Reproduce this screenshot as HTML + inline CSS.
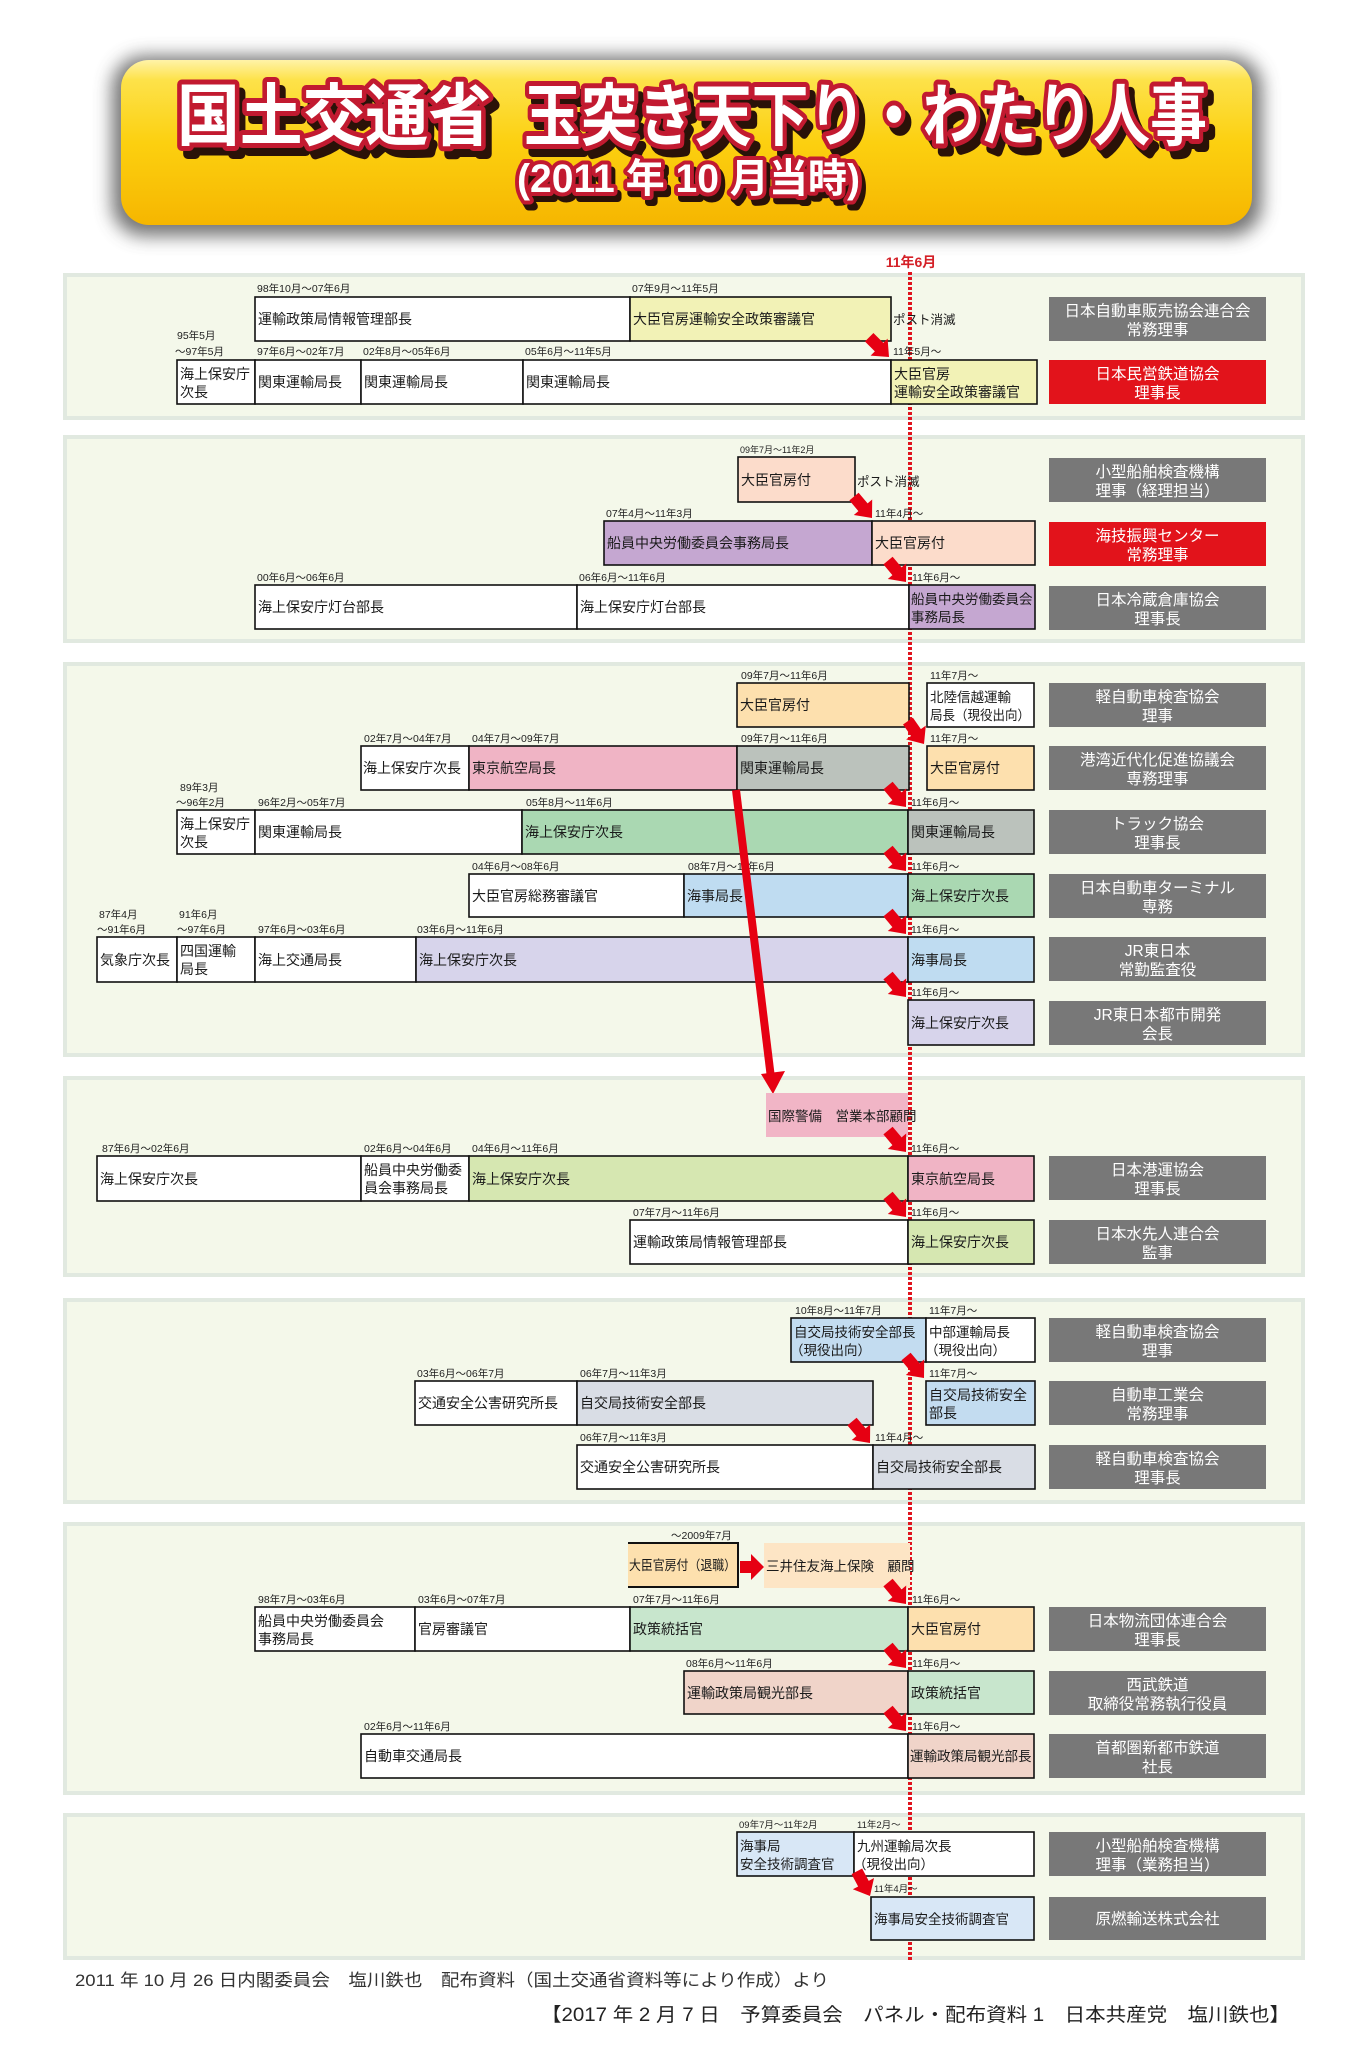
<!DOCTYPE html>
<html><head><meta charset="utf-8">
<style>
html,body{margin:0;padding:0;background:#fff;}
svg{display:block;}
text{font-family:"Liberation Sans","Noto Sans CJK JP",sans-serif;}
.d{font-size:10.5px;fill:#222;}
.t{font-size:14px;fill:#1a1a1a;}
.s{font-size:13.5px;fill:#1a1a1a;}
.g{font-size:15.5px;fill:#fff;text-anchor:middle;}
.c{stroke:#111;stroke-width:1.6;}
.ar{fill:#e60012;}
.sec{fill:#f4f8ea;stroke:#e1e9e0;stroke-width:4;}
</style></head>
<body>
<svg width="1371" height="2048" viewBox="0 0 1371 2048" xmlns="http://www.w3.org/2000/svg">
<defs>
<linearGradient id="gold" x1="0" y1="0" x2="0" y2="1">
<stop offset="0" stop-color="#fff3a8"/>
<stop offset="0.12" stop-color="#fde24a"/>
<stop offset="0.5" stop-color="#fcd010"/>
<stop offset="1" stop-color="#f6b600"/>
</linearGradient>
<filter id="blur" x="-10%" y="-30%" width="120%" height="160%"><feGaussianBlur stdDeviation="9"/></filter>
</defs>
<rect width="1371" height="2048" fill="#fff"/>

<!-- Title -->
<rect x="112" y="56" width="1150" height="180" rx="32" fill="#5c5c5c" opacity="0.85" filter="url(#blur)"/>
<rect x="121" y="60" width="1131" height="165" rx="28" fill="url(#gold)"/>
<g font-weight="bold">
<text x="183" y="148" font-size="68" textLength="314" lengthAdjust="spacingAndGlyphs" fill="#2a1208" stroke="#2a1208" stroke-width="10" stroke-linejoin="round">国土交通省</text>
<text x="530" y="148" font-size="68" textLength="683" lengthAdjust="spacingAndGlyphs" fill="#2a1208" stroke="#2a1208" stroke-width="10" stroke-linejoin="round">玉突き天下り・わたり人事</text>
<text x="177" y="140" font-size="68" textLength="314" lengthAdjust="spacingAndGlyphs" fill="#fff" stroke="#c21a30" stroke-width="10" stroke-linejoin="round" style="paint-order:stroke">国土交通省</text>
<text x="524" y="140" font-size="68" textLength="683" lengthAdjust="spacingAndGlyphs" fill="#fff" stroke="#c21a30" stroke-width="10" stroke-linejoin="round" style="paint-order:stroke">玉突き天下り・わたり人事</text>
<text x="521" y="198" font-size="40" textLength="343" lengthAdjust="spacingAndGlyphs" fill="#2a1208" stroke="#2a1208" stroke-width="8" stroke-linejoin="round">(2011 年 10 月当時)</text>
<text x="517" y="192" font-size="40" textLength="343" lengthAdjust="spacingAndGlyphs" fill="#fff" stroke="#c21a30" stroke-width="8" stroke-linejoin="round" style="paint-order:stroke">(2011 年 10 月当時)</text>
</g>

<text x="911" y="267" font-size="14" font-weight="bold" fill="#d42027" text-anchor="middle">11年6月</text>

<!-- Section backgrounds -->
<rect class="sec" x="65" y="275" width="1238" height="143"/>
<rect class="sec" x="65" y="437" width="1238" height="204"/>
<rect class="sec" x="65" y="664" width="1238" height="391"/>
<rect class="sec" x="65" y="1078" width="1238" height="197"/>
<rect class="sec" x="65" y="1300" width="1238" height="202"/>
<rect class="sec" x="65" y="1524" width="1238" height="269"/>
<rect class="sec" x="65" y="1815" width="1238" height="143"/>

<!-- dashed line -->
<line x1="910" y1="272" x2="910" y2="1962" stroke="#e0141e" stroke-width="4" stroke-dasharray="3 2"/>

<!-- ===== Section 1 ===== -->
<text class="d" x="257" y="292">98年10月〜07年6月</text>
<text class="d" x="632" y="292">07年9月〜11年5月</text>
<rect class="c" x="255" y="297" width="375" height="44" fill="#fff"/>
<rect class="c" x="630" y="297" width="261" height="44" fill="#f2f2b6"/>
<text class="t" x="258" y="324">運輸政策局情報管理部長</text>
<text class="t" x="633" y="324">大臣官房運輸安全政策審議官</text>
<text x="893" y="324" font-size="12.5" fill="#1a1a1a">ポスト消滅</text>

<text class="d" x="177" y="339">95年5月</text>
<text class="d" x="175" y="355">〜97年5月</text>
<text class="d" x="257" y="355">97年6月〜02年7月</text>
<text class="d" x="363" y="355">02年8月〜05年6月</text>
<text class="d" x="525" y="355">05年6月〜11年5月</text>
<text class="d" x="893" y="355">11年5月〜</text>
<rect class="c" x="177" y="360" width="78" height="44" fill="#fff"/>
<rect class="c" x="255" y="360" width="106" height="44" fill="#fff"/>
<rect class="c" x="361" y="360" width="162" height="44" fill="#fff"/>
<rect class="c" x="523" y="360" width="368" height="44" fill="#fff"/>
<rect class="c" x="891" y="360" width="146" height="44" fill="#f2f2b6"/>
<text class="t" x="180" y="379">海上保安庁</text><text class="t" x="180" y="397">次長</text>
<text class="t" x="258" y="387">関東運輸局長</text>
<text class="t" x="364" y="387">関東運輸局長</text>
<text class="t" x="526" y="387">関東運輸局長</text>
<text class="t" x="894" y="379">大臣官房</text><text class="t" x="894" y="397">運輸安全政策審議官</text>
<polygon class="ar" points="0,0 -14,-12 -14,-6 -28,-6 -28,6 -14,6 -14,12" transform="translate(889,357) rotate(45)"/>

<rect x="1049" y="297" width="217" height="44" fill="#787878"/>
<text class="g" x="1157.5" y="316">日本自動車販売協会連合会</text><text class="g" x="1157.5" y="335">常務理事</text>
<rect x="1049" y="360" width="217" height="44" fill="#e2131b"/>
<text class="g" x="1157.5" y="379">日本民営鉄道協会</text><text class="g" x="1157.5" y="398">理事長</text>

<!-- ===== Section 2 ===== -->
<text x="740" y="453" font-size="9" fill="#222">09年7月〜11年2月</text>
<rect class="c" x="738" y="457" width="117" height="45" fill="#fcdccb"/>
<text class="t" x="741" y="485">大臣官房付</text>
<text x="857" y="486" font-size="12.5" fill="#1a1a1a">ポスト消滅</text>
<polygon class="ar" points="0,0 -14,-12 -14,-6 -28,-6 -28,6 -14,6 -14,12" transform="translate(872,518) rotate(50)"/>

<text class="d" x="606" y="517">07年4月〜11年3月</text>
<text class="d" x="875" y="517">11年4月〜</text>
<rect class="c" x="604" y="521" width="268" height="44" fill="#c5a7d1"/>
<rect class="c" x="872" y="521" width="163" height="44" fill="#fcdccb"/>
<text class="t" x="607" y="548">船員中央労働委員会事務局長</text>
<text class="t" x="875" y="548">大臣官房付</text>
<polygon class="ar" points="0,0 -14,-12 -14,-6 -28,-6 -28,6 -14,6 -14,12" transform="translate(906,582) rotate(50)"/>

<text class="d" x="257" y="581">00年6月〜06年6月</text>
<text class="d" x="579" y="581">06年6月〜11年6月</text>
<text class="d" x="912" y="581">11年6月〜</text>
<rect class="c" x="255" y="585" width="322" height="44" fill="#fff"/>
<rect class="c" x="577" y="585" width="332" height="44" fill="#fff"/>
<rect class="c" x="909" y="585" width="126" height="44" fill="#c5a7d1"/>
<text class="t" x="258" y="612">海上保安庁灯台部長</text>
<text class="t" x="580" y="612">海上保安庁灯台部長</text>
<text class="s" x="911" y="604">船員中央労働委員会</text><text class="s" x="911" y="622">事務局長</text>

<rect x="1049" y="458" width="217" height="44" fill="#787878"/>
<text class="g" x="1157.5" y="477">小型船舶検査機構</text><text class="g" x="1157.5" y="496">理事（経理担当）</text>
<rect x="1049" y="522" width="217" height="44" fill="#e2131b"/>
<text class="g" x="1157.5" y="541">海技振興センター</text><text class="g" x="1157.5" y="560">常務理事</text>
<rect x="1049" y="586" width="217" height="44" fill="#787878"/>
<text class="g" x="1157.5" y="605">日本冷蔵倉庫協会</text><text class="g" x="1157.5" y="624">理事長</text>

<!-- ===== Section 3 ===== -->
<text class="d" x="741" y="679">09年7月〜11年6月</text>
<text class="d" x="930" y="679">11年7月〜</text>
<rect class="c" x="737" y="683" width="172" height="44" fill="#fde0ae"/>
<text class="t" x="740" y="710">大臣官房付</text>
<rect class="c" x="927" y="683" width="107" height="44" fill="#fff"/>
<text class="s" x="930" y="702">北陸信越運輸</text>
<text class="s" x="930" y="720" textLength="100" lengthAdjust="spacingAndGlyphs">局長（現役出向）</text>
<polygon class="ar" points="0,0 -14,-12 -14,-6 -28,-6 -28,6 -14,6 -14,12" transform="translate(924,744) rotate(55)"/>

<text class="d" x="364" y="742">02年7月〜04年7月</text>
<text class="d" x="472" y="742">04年7月〜09年7月</text>
<text class="d" x="741" y="742">09年7月〜11年6月</text>
<text class="d" x="930" y="742">11年7月〜</text>
<rect class="c" x="361" y="746" width="108" height="44" fill="#fff"/>
<rect class="c" x="469" y="746" width="268" height="44" fill="#f0b4c5"/>
<rect class="c" x="737" y="746" width="172" height="44" fill="#bbc2bc"/>
<rect class="c" x="927" y="746" width="107" height="44" fill="#fde0ae"/>
<text class="t" x="363" y="773">海上保安庁次長</text>
<text class="t" x="472" y="773">東京航空局長</text>
<text class="t" x="740" y="773">関東運輸局長</text>
<text class="t" x="930" y="773">大臣官房付</text>
<polygon class="ar" points="0,0 -14,-12 -14,-6 -28,-6 -28,6 -14,6 -14,12" transform="translate(906,807) rotate(50)"/>

<text class="d" x="180" y="791">89年3月</text>
<text class="d" x="176" y="806">〜96年2月</text>
<text class="d" x="258" y="806">96年2月〜05年7月</text>
<text class="d" x="526" y="806">05年8月〜11年6月</text>
<text class="d" x="911" y="806">11年6月〜</text>
<rect class="c" x="177" y="810" width="78" height="44" fill="#fff"/>
<rect class="c" x="255" y="810" width="267" height="44" fill="#fff"/>
<rect class="c" x="522" y="810" width="386" height="44" fill="#aad8b2"/>
<rect class="c" x="908" y="810" width="126" height="44" fill="#bbc2bc"/>
<text class="t" x="180" y="829">海上保安庁</text><text class="t" x="180" y="847">次長</text>
<text class="t" x="258" y="837">関東運輸局長</text>
<text class="t" x="525" y="837">海上保安庁次長</text>
<text class="t" x="911" y="837">関東運輸局長</text>
<polygon class="ar" points="0,0 -14,-12 -14,-6 -28,-6 -28,6 -14,6 -14,12" transform="translate(906,871) rotate(50)"/>

<text class="d" x="472" y="870">04年6月〜08年6月</text>
<text class="d" x="688" y="870">08年7月〜11年6月</text>
<text class="d" x="911" y="870">11年6月〜</text>
<rect class="c" x="469" y="874" width="215" height="43" fill="#fff"/>
<rect class="c" x="684" y="874" width="224" height="43" fill="#bfdcf1"/>
<rect class="c" x="908" y="874" width="126" height="43" fill="#aad8b2"/>
<text class="t" x="472" y="901">大臣官房総務審議官</text>
<text class="t" x="687" y="901">海事局長</text>
<text class="t" x="911" y="901">海上保安庁次長</text>
<polygon class="ar" points="0,0 -14,-12 -14,-6 -28,-6 -28,6 -14,6 -14,12" transform="translate(906,934) rotate(50)"/>

<text class="d" x="99" y="918">87年4月</text>
<text class="d" x="97" y="933">〜91年6月</text>
<text class="d" x="179" y="918">91年6月</text>
<text class="d" x="177" y="933">〜97年6月</text>
<text class="d" x="258" y="933">97年6月〜03年6月</text>
<text class="d" x="417" y="933">03年6月〜11年6月</text>
<text class="d" x="911" y="933">11年6月〜</text>
<rect class="c" x="97" y="937" width="80" height="45" fill="#fff"/>
<rect class="c" x="177" y="937" width="78" height="45" fill="#fff"/>
<rect class="c" x="255" y="937" width="161" height="45" fill="#fff"/>
<rect class="c" x="416" y="937" width="492" height="45" fill="#d7d4eb"/>
<rect class="c" x="908" y="937" width="126" height="45" fill="#bfdcf1"/>
<text class="t" x="100" y="965">気象庁次長</text>
<text class="t" x="180" y="956">四国運輸</text><text class="t" x="180" y="974">局長</text>
<text class="t" x="258" y="965">海上交通局長</text>
<text class="t" x="419" y="965">海上保安庁次長</text>
<text class="t" x="911" y="965">海事局長</text>
<polygon class="ar" points="0,0 -14,-12 -14,-6 -28,-6 -28,6 -14,6 -14,12" transform="translate(906,997) rotate(50)"/>

<text class="d" x="911" y="996">11年6月〜</text>
<rect class="c" x="908" y="1000" width="126" height="45" fill="#d7d4eb"/>
<text class="t" x="911" y="1028">海上保安庁次長</text>

<rect x="1049" y="683" width="217" height="44" fill="#787878"/>
<text class="g" x="1157.5" y="702">軽自動車検査協会</text><text class="g" x="1157.5" y="721">理事</text>
<rect x="1049" y="746" width="217" height="44" fill="#787878"/>
<text class="g" x="1157.5" y="765">港湾近代化促進協議会</text><text class="g" x="1157.5" y="784">専務理事</text>
<rect x="1049" y="810" width="217" height="44" fill="#787878"/>
<text class="g" x="1157.5" y="829">トラック協会</text><text class="g" x="1157.5" y="848">理事長</text>
<rect x="1049" y="874" width="217" height="44" fill="#787878"/>
<text class="g" x="1157.5" y="893">日本自動車ターミナル</text><text class="g" x="1157.5" y="912">専務</text>
<rect x="1049" y="937" width="217" height="44" fill="#787878"/>
<text class="g" x="1157.5" y="956">JR東日本</text><text class="g" x="1157.5" y="975">常勤監査役</text>
<rect x="1049" y="1001" width="217" height="44" fill="#787878"/>
<text class="g" x="1157.5" y="1020">JR東日本都市開発</text><text class="g" x="1157.5" y="1039">会長</text>

<!-- long red line -->
<line x1="736" y1="790" x2="771" y2="1078" stroke="#e60012" stroke-width="8"/>
<polygon class="ar" points="773,1094 761,1074 785,1071"/>

<!-- ===== Section 4 ===== -->
<rect x="766" y="1093" width="142" height="44" fill="#f1b5c6"/>
<text class="s" x="768" y="1121">国際警備　営業本部顧問</text>
<polygon class="ar" points="0,0 -14,-12 -14,-6 -28,-6 -28,6 -14,6 -14,12" transform="translate(906,1152) rotate(50)"/>

<text class="d" x="102" y="1152">87年6月〜02年6月</text>
<text class="d" x="364" y="1152">02年6月〜04年6月</text>
<text class="d" x="472" y="1152">04年6月〜11年6月</text>
<text class="d" x="911" y="1152">11年6月〜</text>
<rect class="c" x="97" y="1156" width="264" height="45" fill="#fff"/>
<rect class="c" x="361" y="1156" width="108" height="45" fill="#fff"/>
<rect class="c" x="469" y="1156" width="439" height="45" fill="#d6e7b1"/>
<rect class="c" x="908" y="1156" width="126" height="45" fill="#f0b4c5"/>
<text class="t" x="100" y="1184">海上保安庁次長</text>
<text class="t" x="364" y="1175">船員中央労働委</text><text class="t" x="364" y="1193">員会事務局長</text>
<text class="t" x="472" y="1184">海上保安庁次長</text>
<text class="t" x="911" y="1184">東京航空局長</text>
<polygon class="ar" points="0,0 -14,-12 -14,-6 -28,-6 -28,6 -14,6 -14,12" transform="translate(906,1217) rotate(50)"/>

<text class="d" x="633" y="1216">07年7月〜11年6月</text>
<text class="d" x="911" y="1216">11年6月〜</text>
<rect class="c" x="630" y="1220" width="278" height="44" fill="#fff"/>
<rect class="c" x="908" y="1220" width="126" height="44" fill="#d6e7b1"/>
<text class="t" x="633" y="1247">運輸政策局情報管理部長</text>
<text class="t" x="911" y="1247">海上保安庁次長</text>

<rect x="1049" y="1156" width="217" height="44" fill="#787878"/>
<text class="g" x="1157.5" y="1175">日本港運協会</text><text class="g" x="1157.5" y="1194">理事長</text>
<rect x="1049" y="1220" width="217" height="44" fill="#787878"/>
<text class="g" x="1157.5" y="1239">日本水先人連合会</text><text class="g" x="1157.5" y="1258">監事</text>

<!-- ===== Section 5 ===== -->
<text class="d" x="795" y="1314">10年8月〜11年7月</text>
<text class="d" x="929" y="1314">11年7月〜</text>
<rect class="c" x="791" y="1318" width="135" height="44" fill="#c3dcf0"/>
<rect class="c" x="926" y="1318" width="109" height="44" fill="#fff"/>
<text class="s" x="794" y="1337">自交局技術安全部長</text><text class="s" x="790" y="1355">（現役出向）</text>
<text class="s" x="929" y="1337">中部運輸局長</text><text class="s" x="925" y="1355">（現役出向）</text>
<polygon class="ar" points="0,0 -14,-12 -14,-6 -28,-6 -28,6 -14,6 -14,12" transform="translate(924,1378) rotate(50)"/>

<text class="d" x="417" y="1377">03年6月〜06年7月</text>
<text class="d" x="580" y="1377">06年7月〜11年3月</text>
<text class="d" x="929" y="1377">11年7月〜</text>
<rect class="c" x="415" y="1381" width="162" height="44" fill="#fff"/>
<rect class="c" x="577" y="1381" width="296" height="44" fill="#d9dde5"/>
<rect class="c" x="926" y="1381" width="109" height="44" fill="#c3dcf0"/>
<text class="t" x="418" y="1408">交通安全公害研究所長</text>
<text class="t" x="580" y="1408">自交局技術安全部長</text>
<text class="t" x="929" y="1400">自交局技術安全</text><text class="t" x="929" y="1418">部長</text>
<polygon class="ar" points="0,0 -14,-12 -14,-6 -28,-6 -28,6 -14,6 -14,12" transform="translate(870,1443) rotate(50)"/>

<text class="d" x="580" y="1441">06年7月〜11年3月</text>
<text class="d" x="875" y="1441">11年4月〜</text>
<rect class="c" x="577" y="1445" width="296" height="44" fill="#fff"/>
<rect class="c" x="873" y="1445" width="162" height="44" fill="#d9dde5"/>
<text class="t" x="580" y="1472">交通安全公害研究所長</text>
<text class="t" x="876" y="1472">自交局技術安全部長</text>

<rect x="1049" y="1318" width="217" height="44" fill="#787878"/>
<text class="g" x="1157.5" y="1337">軽自動車検査協会</text><text class="g" x="1157.5" y="1356">理事</text>
<rect x="1049" y="1381" width="217" height="44" fill="#787878"/>
<text class="g" x="1157.5" y="1400">自動車工業会</text><text class="g" x="1157.5" y="1419">常務理事</text>
<rect x="1049" y="1445" width="217" height="44" fill="#787878"/>
<text class="g" x="1157.5" y="1464">軽自動車検査協会</text><text class="g" x="1157.5" y="1483">理事長</text>

<!-- ===== Section 6 ===== -->
<text class="d" x="671" y="1539">〜2009年7月</text>
<rect x="628" y="1543" width="110" height="44" fill="#fde0ae"/>
<path d="M628,1543 H738 V1587 H628" fill="none" stroke="#111" stroke-width="2"/>
<text x="629" y="1570" font-size="13.5" fill="#1a1a1a" textLength="107" lengthAdjust="spacingAndGlyphs">大臣官房付（退職）</text>
<polygon class="ar" points="740,1561 751,1561 751,1554 764,1567 751,1580 751,1573 740,1573"/>
<rect x="764" y="1543" width="146" height="45" fill="#fde5c5"/>
<text class="s" x="766" y="1571">三井住友海上保険　顧問</text>
<polygon class="ar" points="0,0 -14,-12 -14,-6 -28,-6 -28,6 -14,6 -14,12" transform="translate(906,1604) rotate(50)"/>

<text class="d" x="258" y="1603">98年7月〜03年6月</text>
<text class="d" x="418" y="1603">03年6月〜07年7月</text>
<text class="d" x="633" y="1603">07年7月〜11年6月</text>
<text class="d" x="912" y="1603">11年6月〜</text>
<rect class="c" x="255" y="1607" width="160" height="44" fill="#fff"/>
<rect class="c" x="415" y="1607" width="215" height="44" fill="#fff"/>
<rect class="c" x="630" y="1607" width="278" height="44" fill="#c8e6cd"/>
<rect class="c" x="908" y="1607" width="126" height="44" fill="#fde0ae"/>
<text class="t" x="258" y="1626">船員中央労働委員会</text><text class="t" x="258" y="1644">事務局長</text>
<text class="t" x="418" y="1634">官房審議官</text>
<text class="t" x="633" y="1634">政策統括官</text>
<text class="t" x="911" y="1634">大臣官房付</text>
<polygon class="ar" points="0,0 -14,-12 -14,-6 -28,-6 -28,6 -14,6 -14,12" transform="translate(906,1668) rotate(50)"/>

<text class="d" x="686" y="1667">08年6月〜11年6月</text>
<text class="d" x="912" y="1667">11年6月〜</text>
<rect class="c" x="684" y="1671" width="224" height="43" fill="#f0d4c9"/>
<rect class="c" x="908" y="1671" width="126" height="43" fill="#c8e6cd"/>
<text class="t" x="687" y="1698">運輸政策局観光部長</text>
<text class="t" x="911" y="1698">政策統括官</text>
<polygon class="ar" points="0,0 -14,-12 -14,-6 -28,-6 -28,6 -14,6 -14,12" transform="translate(906,1731) rotate(50)"/>

<text class="d" x="364" y="1730">02年6月〜11年6月</text>
<text class="d" x="912" y="1730">11年6月〜</text>
<rect class="c" x="361" y="1734" width="547" height="44" fill="#fff"/>
<rect class="c" x="908" y="1734" width="126" height="44" fill="#f0d4c9"/>
<text class="t" x="364" y="1761">自動車交通局長</text>
<text class="s" x="910" y="1761">運輸政策局観光部長</text>

<rect x="1049" y="1607" width="217" height="44" fill="#787878"/>
<text class="g" x="1157.5" y="1626">日本物流団体連合会</text><text class="g" x="1157.5" y="1645">理事長</text>
<rect x="1049" y="1671" width="217" height="44" fill="#787878"/>
<text class="g" x="1157.5" y="1690">西武鉄道</text><text class="g" x="1157.5" y="1709">取締役常務執行役員</text>
<rect x="1049" y="1734" width="217" height="44" fill="#787878"/>
<text class="g" x="1157.5" y="1753">首都圏新都市鉄道</text><text class="g" x="1157.5" y="1772">社長</text>

<!-- ===== Section 7 ===== -->
<text x="739" y="1828" font-size="9.5" fill="#222">09年7月〜11年2月</text>
<text x="857" y="1828" font-size="9.5" fill="#222">11年2月〜</text>
<rect class="c" x="737" y="1832" width="117" height="44" fill="#d8e7f6"/>
<rect class="c" x="854" y="1832" width="180" height="44" fill="#fff"/>
<text class="s" x="740" y="1851">海事局</text><text class="s" x="740" y="1869">安全技術調査官</text>
<text class="s" x="857" y="1851">九州運輸局次長</text><text class="s" x="853" y="1869">（現役出向）</text>
<polygon class="ar" points="0,0 -14,-12 -14,-6 -28,-6 -28,6 -14,6 -14,12" transform="translate(870,1896) rotate(62)"/>
<text x="874" y="1892" font-size="9.5" fill="#222">11年4月〜</text>
<rect class="c" x="871" y="1897" width="163" height="43" fill="#d8e7f6"/>
<text class="s" x="874" y="1924">海事局安全技術調査官</text>

<rect x="1049" y="1832" width="217" height="44" fill="#787878"/>
<text class="g" x="1157.5" y="1851">小型船舶検査機構</text><text class="g" x="1157.5" y="1870">理事（業務担当）</text>
<rect x="1049" y="1897" width="217" height="43" fill="#787878"/>
<text class="g" x="1157.5" y="1924">原燃輸送株式会社</text>

<!-- footer -->
<text x="75" y="1986" font-size="17" fill="#333" textLength="754" lengthAdjust="spacingAndGlyphs">2011 年 10 月 26 日内閣委員会　塩川鉄也　配布資料（国土交通省資料等により作成）より</text>
<text x="541" y="2021" font-size="19" fill="#222" textLength="749" lengthAdjust="spacingAndGlyphs">【2017 年 2 月 7 日　予算委員会　パネル・配布資料 1　日本共産党　塩川鉄也】</text>
</svg>
</body></html>
